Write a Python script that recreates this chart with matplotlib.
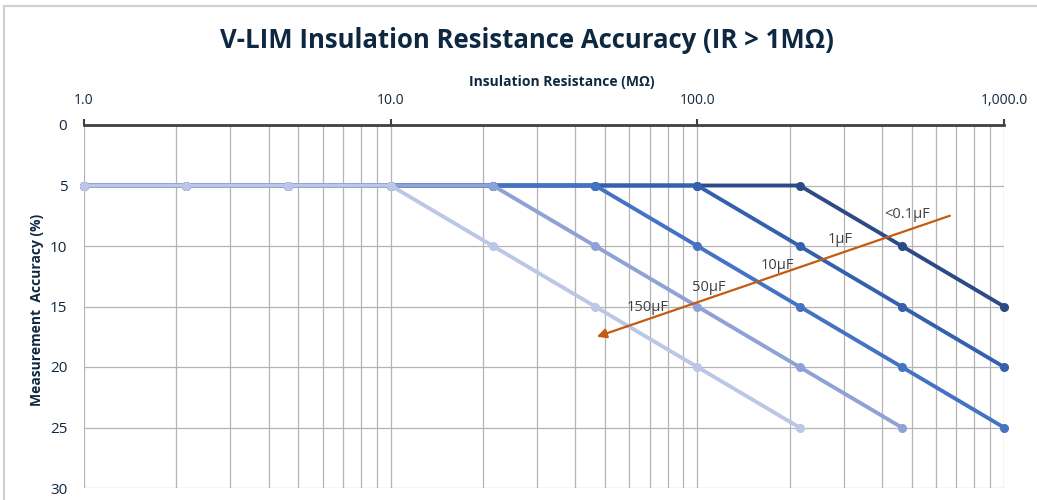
import matplotlib
matplotlib.use("Agg")
import matplotlib.pyplot as plt
from matplotlib.ticker import FixedLocator, NullFormatter
from matplotlib.patches import Rectangle

# Data
resistance = [1.0, 2.154, 4.642, 10.0, 21.54, 46.42, 100.0, 215.4, 464.2, 1000.0]
series_names = ["<0.1µF", "1µF", "10µF", "50µF", "150µF"]
acc_01uF = [5, 5, 5, 5, 5, 5, 5, 5, 10, 15]
acc_1uF = [5, 5, 5, 5, 5, 5, 5, 10, 15, 20]
acc_10uF = [5, 5, 5, 5, 5, 5, 10, 15, 20, 25]
acc_50uF = [5, 5, 5, 5, 5, 10, 15, 20, 25, None]
acc_150uF = [5, 5, 5, 5, 10, 15, 20, 25, None, None]
series_values = [acc_01uF, acc_1uF, acc_10uF, acc_50uF, acc_150uF]
colors = ["#2B4A86", "#3460AE", "#4472C4", "#8EA2D6", "#BCC7E6"]

# annotation arrow (start -> head) and labels
arrow_start = (666, 7.5)
arrow_end = (47, 17.5)
label_pos = [(482, 7.4), (292, 9.5), (183, 11.65), (109, 13.4), (69, 15.1)]

xtick_vals = [1, 10, 100, 1000]
xtick_labels = ["1.0", "10.0", "100.0", "1,000.0"]
ytick_vals = [0, 5, 10, 15, 20, 25, 30]

navy = "#0E2841"

fig = plt.figure(figsize=(10.37, 5.0), dpi=100)
fig.patches.append(Rectangle((0.004, -0.02), 1.2, 1.008, transform=fig.transFigure,
                             fill=False, edgecolor="#D0D0D0", linewidth=1.5))
ax = fig.add_axes([84 / 1037, 1 - 488 / 500, (1004 - 84) / 1037, (488 - 125) / 500])
ax.set_xscale("log")
ax.set_xlim(1, 1000)
ax.set_ylim(30, 0)

for vals, col, name in zip(series_values, colors, series_names):
    xs = [x for x, v in zip(resistance, vals) if v is not None]
    ys = [v for v in vals if v is not None]
    ax.plot(xs, ys, color=col, lw=2.8, marker="o", ms=5.5, solid_capstyle="round",
            zorder=3, clip_on=False)

ax.annotate("", xy=arrow_end, xytext=arrow_start,
            arrowprops=dict(arrowstyle="-|>", color="#C55A11", lw=1.6,
                            mutation_scale=14, shrinkA=0, shrinkB=0), zorder=4)
for (lx, ly), name in zip(label_pos, series_names):
    ax.text(lx, ly, name, fontsize=10.5, color="#404040", ha="center", va="center",
            family="Open Sans", zorder=5)

# grid
ax.set_xticks(xtick_vals)
ax.xaxis.set_minor_locator(FixedLocator([m * d for d in [1, 10, 100] for m in range(2, 10)]))
ax.xaxis.set_minor_formatter(NullFormatter())
ax.set_yticks(ytick_vals)
ax.grid(True, which="major", axis="both", color="#B4B4B4", lw=0.9)
ax.grid(True, which="minor", axis="x", color="#B4B4B4", lw=0.9)
ax.set_axisbelow(True)

ax.xaxis.tick_top()
ax.set_xticklabels(xtick_labels, family="Open Sans", fontsize=10, color=navy)
ax.tick_params(axis="x", which="major", direction="out", length=4, width=1.5,
               color="#404040", pad=8)
ax.tick_params(axis="x", which="minor", length=0)
ax.tick_params(axis="y", length=0, pad=12, labelsize=11, labelcolor=navy)
for lbl in ax.get_yticklabels():
    lbl.set_family("Open Sans")

for s in ["bottom", "left", "right"]:
    ax.spines[s].set_visible(False)
ax.spines["top"].set_color("#404040")
ax.spines["top"].set_linewidth(2)

fig.text(527 / 1037, 1 - 40 / 500, "V-LIM Insulation Resistance Accuracy (IR > 1MΩ)", ha="center",
         va="center", fontsize=18.5, fontweight="bold", color=navy, family="Open Sans")
fig.text(562 / 1037, 1 - 82 / 500, "Insulation Resistance (MΩ)", ha="center", va="center",
         fontsize=10, fontweight="bold", color=navy, family="Open Sans")
fig.text(37 / 1037, 1 - 310 / 500, "Measurement  Accuracy (%)", ha="center", va="center",
         rotation=90, fontsize=10, fontweight="bold", color=navy, family="Open Sans")

fig.savefig("out.png", dpi=100)
